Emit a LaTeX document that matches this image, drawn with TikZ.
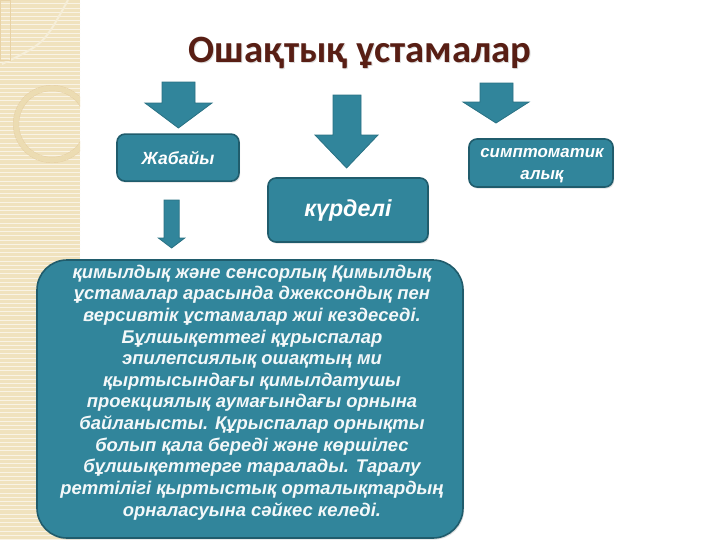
\documentclass[tikz,border=0pt]{standalone}
\usepackage{fontspec}
\setmainfont{Liberation Sans}
\newfontfamily\titlefont{Carlito}
\usetikzlibrary{patterns}
\usetikzlibrary{shadows}
\definecolor{tealbox}{RGB}{49,133,155}
\definecolor{tealedge}{RGB}{32,92,108}
\definecolor{titlebrown}{RGB}{88,30,20}
\definecolor{stripbeige}{RGB}{240,226,190}
\definecolor{stripline}{RGB}{236,220,178}
\tikzset{
  box/.style={draw=tealedge, line width=0.04cm, fill=tealbox, rounded corners=0.2cm,
    text=white, align=center, inner sep=0pt,
    drop shadow={opacity=0.25, shadow xshift=0.03cm, shadow yshift=-0.04cm}},
  bigbox/.style={box, rounded corners=0.75cm},
  blockarrow/.style={fill=tealbox, draw=tealedge!50!tealbox, line width=0.02cm},
  boxtext/.style={font=\bfseries\itshape\fontsize{#1}{#1}\selectfont}
}
\begin{document}
\begin{tikzpicture}
\useasboundingbox (0,0) rectangle (18,-13.5);
%strip
\fill[stripbeige] (0,0) rectangle (2,-13.5);
\fill[pattern=horizontal lines, pattern color=white!60!stripbeige] (0,0) rectangle (2,-13.5);
\begin{scope}
\clip (0,0) rectangle (2,-13.5);
\draw[stripline, line width=0.12cm] (1.3,-3.1) circle [radius=0.9];
\draw[stripline!85!brown, line width=0.01cm] (1.3,-3.1) circle [radius=0.97];
\draw[stripline!85!brown, line width=0.01cm] (1.3,-3.1) circle [radius=0.83];
\draw[white!40!stripbeige, line width=0.05cm] (1.7,0) .. controls (1.1,-1.1) .. (0.05,-1.6);
\draw[stripline!90!brown, line width=0.02cm] (0,0) rectangle (0.25,-1.5);
\end{scope}
%title
\node[text=black!40, opacity=0.35, anchor=base, font=\titlefont\bfseries\fontsize{27.5}{30}\selectfont]
  (titleshadow) at (9.03,-1.58) {Ошақтық ұстамалар};
\node[text=titlebrown, anchor=base, font=\titlefont\bfseries\fontsize{27.5}{30}\selectfont]
  (title) at (9,-1.55) {Ошақтық ұстамалар};
%arrows
\filldraw[blockarrow] (4.05,-2.05) -- (4.875,-2.05) -- (4.875,-2.575) -- (5.3,-2.575)
  -- (4.46,-3.2) -- (3.625,-2.575) -- (4.05,-2.575) -- cycle;
\filldraw[blockarrow] (8.325,-2.375) -- (9.025,-2.375) -- (9.025,-3.375) -- (9.45,-3.375)
  -- (8.665,-4.2) -- (7.875,-3.375) -- (8.325,-3.375) -- cycle;
\filldraw[blockarrow] (12.0,-2.075) -- (12.825,-2.075) -- (12.825,-2.55) -- (13.225,-2.55)
  -- (12.4,-3.075) -- (11.575,-2.55) -- (12.0,-2.55) -- cycle;
\filldraw[blockarrow] (4.1,-5.0) -- (4.48,-5.0) -- (4.48,-5.95) -- (4.62,-5.95)
  -- (4.29,-6.2) -- (3.96,-5.95) -- (4.1,-5.95) -- cycle;
%boxes
\node[box, boxtext=12.5, minimum width=3.05cm, minimum height=1.175cm] (wild) at (4.45,-3.94) {Жабайы};
\node[box, boxtext=16.5, minimum width=4.0cm, minimum height=1.6cm] (complex) at (8.7,-5.25) {күрделі};
\node[box, minimum width=3.6cm, minimum height=1.2cm] (sympt) at (13.525,-4.075) {};
\node[boxtext=12, text=white, align=center] (symptlabel) at (13.55,-4.14)
  {симптоматик\\[0.12cm]алық};
\node[bigbox, minimum width=10.65cm, minimum height=6.95cm] (descbox) at (6.25,-9.975) {};
\node[text=white!94!tealbox, align=center, font=\bfseries\itshape\fontsize{13.1}{15.4}\selectfont]
  (desc) at (6.3,-9.81) {қимылдық және сенсорлық Қимылдық\\
  ұстамалар арасында джексондық пен\\
  версивтік ұстамалар жиі кездеседі.\\
  Бұлшықеттегі құрыспалар\\
  эпилепсиялық ошақтың ми\\
  қыртысындағы қимылдатушы\\
  проекциялық аумағындағы орнына\\
  байланысты. Құрыспалар орнықты\\
  болып қала береді және көршілес\\
  бұлшықеттерге таралады. Таралу\\
  реттілігі қыртыстық орталықтардың\\
  орналасуына сәйкес келеді.};
\end{tikzpicture}
\end{document}
